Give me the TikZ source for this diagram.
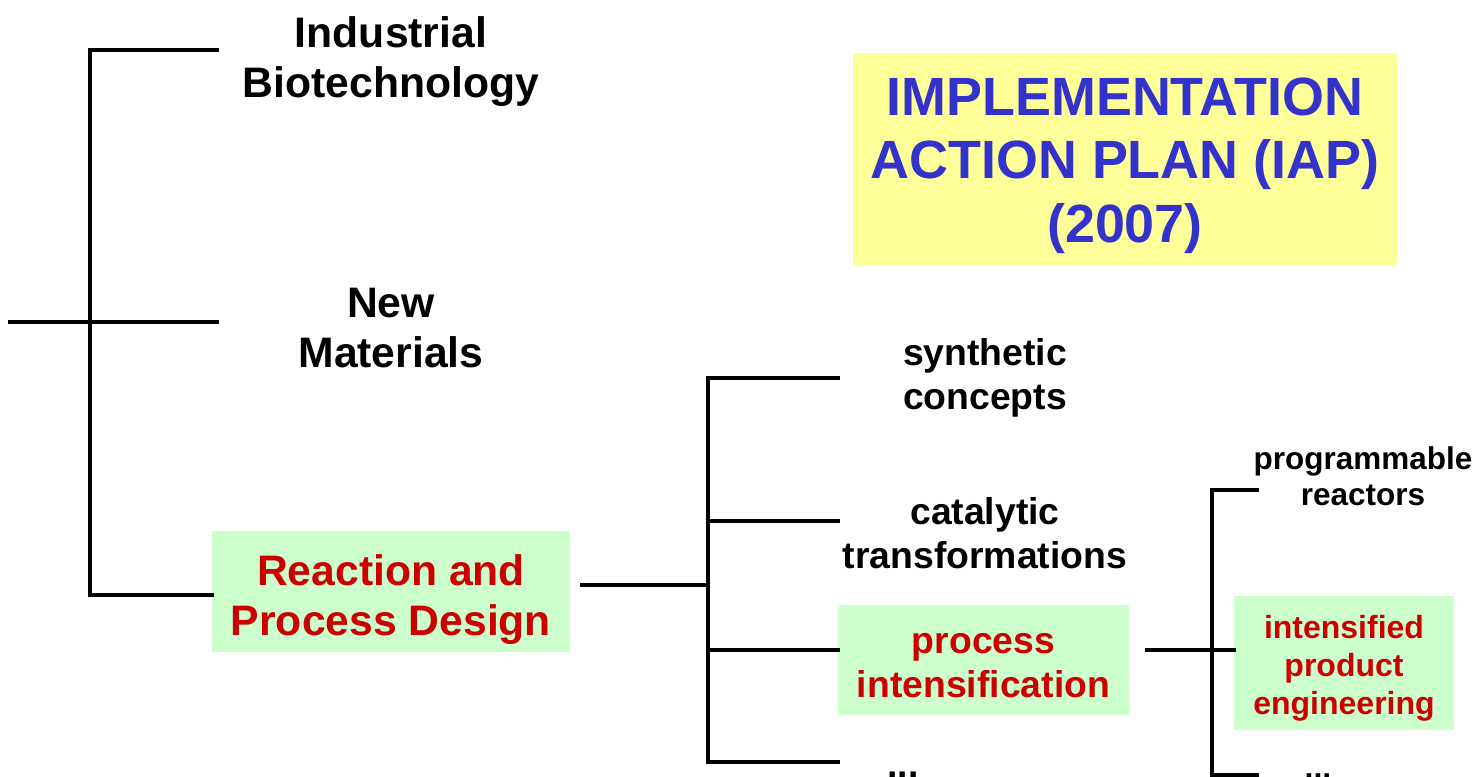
\documentclass[tikz,border=0pt]{standalone}
\usepackage{fontspec}
\setmainfont{Liberation Sans}
\definecolor{boxgreen}{HTML}{CCFFCC}
\definecolor{boxyellow}{HTML}{FFFF99}
\definecolor{iapblue}{HTML}{3333CC}
\definecolor{redtxt}{HTML}{CC0000}
\begin{document}
\begin{tikzpicture}[x=0.75pt,y=-0.75pt,
  ln/.style={line width=3.6pt,line cap=rect},
  big/.style={font=\bfseries\fontsize{32}{38}\selectfont,align=center,inner sep=0pt},
  mid/.style={font=\bfseries\fontsize{28}{33}\selectfont,align=center,inner sep=0pt},
  small/.style={font=\bfseries\fontsize{23.6}{27}\selectfont,align=center,inner sep=0pt},
  tiny/.style={font=\bfseries\fontsize{24}{28.5}\selectfont,align=center,inner sep=0pt},
  gbox/.style={fill=boxgreen,inner sep=0pt},
  rtxt/.style={text=redtxt},
]
\useasboundingbox (0,0) rectangle (1479,777);
% title box
\node[fill=boxyellow,minimum width=408pt,minimum height=159pt,inner sep=0pt] (iap) at (1125,159) {};
\node[text=iapblue,font=\bfseries\fontsize{40.4}{47.5}\selectfont,align=center,inner sep=0pt]
  (iapt) at (1125,165.5) {IMPLEMENTATION\\ACTION PLAN (IAP)\\(2007)};
% level 1
\node[big] (ib) at (391,61.5) {Industrial\\Biotechnology};
\node[big] (nm) at (391,328) {New\\Materials};
\node[gbox,minimum width=268.5pt,minimum height=90.75pt] (rpd) at (391,591.5) {};
\node[big,rtxt] (rpdt) at (391,599.5) {Reaction and\\Process Design};
% level 2
\node[mid] (sc) at (985,378) {synthetic\\concepts};
\node[mid] (ct) at (985,533.5) {catalytic\\transformations};
\node[gbox,minimum width=218.25pt,minimum height=82.5pt] (pi) at (983.5,660) {};
\node[mid,rtxt] (pit) at (983.5,666) {process\\intensification};
\node[mid,anchor=base] (d2) at (903,777.5) {...};
% level 3
\node[small] (pr) at (1363,476.5) {programmable\\reactors};
\node[gbox,minimum width=165pt,minimum height=100.5pt] (ipe) at (1344,663) {};
\node[tiny,rtxt] (ipet) at (1344,668.5) {intensified\\product\\engineering};
\node[tiny,anchor=base] (d3) at (1318,778) {...};
% tree 1
\coordinate (root) at (10,322);
\coordinate (e1) at (217,50);
\coordinate (e2) at (217,322);
\draw[ln] (root) -- (e2);
\draw[ln] (e1) -- (90,50) -- (90,595) -- (rpd.west |- {(0,595)});
% tree 2
\coordinate (s2) at (582,585);
\coordinate (f1) at (838,378);
\coordinate (f2) at (838,521);
\coordinate (f4) at (838,762);
\draw[ln] (s2) -- (708,585);
\draw[ln] (f1) -- (708,378) -- (708,762) -- (f4);
\draw[ln] (708,521) -- (f2);
\draw[ln] (708,650) -- (pi.west |- {(0,650)});
% tree 3
\coordinate (s3) at (1147,650);
\coordinate (g1) at (1257,490);
\coordinate (g3) at (1257,775);
\draw[ln] (s3) -- (1212,650) -- (ipe.west |- {(0,650)});
\draw[ln] (g1) -- (1212,490) -- (1212,800);
\draw[ln] (1212,775) -- (g3);
\end{tikzpicture}
\end{document}
